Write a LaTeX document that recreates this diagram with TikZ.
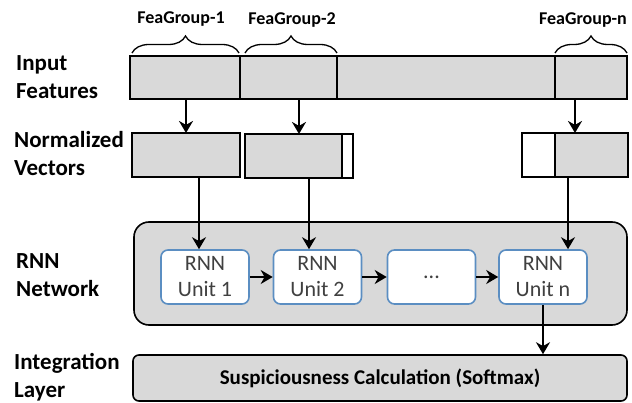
\documentclass[tikz,border=0pt]{standalone}
\usepackage{fontspec}
\setmainfont{Carlito}
\usetikzlibrary{arrows.meta,calc,decorations.pathreplacing}
\definecolor{boxgray}{HTML}{D9D9D9}
\definecolor{unitblue}{HTML}{5B8EC2}
\begin{document}
\begin{tikzpicture}[x=1pt,y=-1pt,
  lbl/.style={font=\bfseries\fontsize{23}{28}\selectfont,align=left,anchor=west,inner sep=0pt},
  grp/.style={font=\bfseries\fontsize{18}{20}\selectfont,inner sep=0pt},
  seg/.style={draw,line width=1.6pt,fill=boxgray,minimum height=43pt,inner sep=0pt,outer sep=0pt},
  vecbox/.style={draw,line width=1.6pt,fill=boxgray,minimum height=44pt,inner sep=0pt,outer sep=0pt},
  padbox/.style={draw,line width=1.6pt,fill=white,minimum height=44pt,inner sep=0pt,outer sep=0pt},
  unitbox/.style={draw=unitblue,line width=1.6pt,fill=white,rounded corners=7pt,minimum width=88pt,minimum height=54pt,align=center,inner sep=0pt,font=\fontsize{22}{26}\selectfont,text=black!75},
  arr/.style={line width=2.8pt,-{Stealth[length=12pt,width=14pt]}},
  brc/.style={decorate,decoration={brace,amplitude=17pt},line width=1.3pt}
]
\useasboundingbox (0,0) rectangle (632,403);

% row labels
\node[lbl] (l1) at (16,77) {Input\\Features};
\node[lbl] (l2) at (14,154) {Normalized\\Vectors};
\node[lbl] (l3) at (16,275) {RNN\\Network};
\node[lbl] (l4) at (14,377) {Integration\\Layer};

% input feature bar, split into groups
\node[seg,minimum width=110pt] (seg1) at (185,77.5) {};
\node[seg,minimum width=97pt,anchor=west] (seg2) at (seg1.east) {};
\node[seg,minimum width=218pt,anchor=west] (segm) at (seg2.east) {};
\node[seg,minimum width=72pt,anchor=west] (segn) at (segm.east) {};

% group braces and names
\draw[brc] ([xshift=2pt,yshift=3pt]seg1.north west) -- ([xshift=-1pt,yshift=3pt]seg1.north east);
\draw[brc] ([xshift=5pt,yshift=3pt]seg2.north west) -- ([yshift=3pt]seg2.north east);
\draw[brc] ([yshift=3pt]segn.north west) -- ([yshift=3pt]segn.north east);
\node[grp] (g1) at (181,19) {FeaGroup-1};
\node[grp] (g2) at (292,20) {FeaGroup-2};
\node[grp] (gn) at (583,20) {FeaGroup-n};

% normalized vectors
\node[vecbox,minimum width=108pt] (norm1) at (186,155) {};
\node[vecbox,minimum width=108pt] (norm2) at (299,156) {};
\node[padbox,minimum width=11pt,anchor=east] (pad2) at (norm2.east) {};
\node[vecbox,minimum width=73pt] (normn) at (591.5,155) {};
\node[padbox,minimum width=33pt,anchor=east] (padn) at (normn.west) {};
\coordinate (nn) at ($(padn.north west)!0.5!(normn.north east)$);

\draw[arr] (seg1.south -| norm1.north) -- (norm1.north);
\draw[arr] (seg2.south -| norm2.north) -- (norm2.north);
\draw[arr] (segn.south -| nn) -- (nn);

% RNN network
\node[draw,line width=1.6pt,fill=boxgray,rounded corners=15pt,minimum width=493pt,minimum height=103pt,inner sep=0pt] (net) at (380.5,273.5) {};
\node[unitbox] (u1) at (205,277) {RNN\\Unit 1};
\node[unitbox] (u2) at (317.5,277) {RNN\\Unit 2};
\node[unitbox] (u3) at (431.5,277) {...};
\node[unitbox] (un) at (543,277) {RNN\\Unit n};

\draw[arr] ([xshift=13pt]norm1.south) -- ([xshift=13pt]norm1.south |- u1.north);
\draw[arr] ([xshift=10pt]norm2.south) -- ([xshift=10pt]norm2.south |- u2.north);
\draw[arr] ([xshift=-23.5pt]normn.south) -- ([xshift=-23.5pt]normn.south |- un.north);

\draw[arr] (u1) -- (u2);
\draw[arr] (u2) -- (u3);
\draw[arr] (u3) -- (un);

% integration layer
\node[draw,line width=1.6pt,fill=boxgray,rounded corners=6pt,minimum width=494pt,minimum height=46pt,inner sep=0pt,font=\bfseries\fontsize{21}{24}\selectfont] (integ) at (380,378) {Suspiciousness Calculation (Softmax)};
\draw[arr] (un.south) -- (un.south |- integ.north);
\end{tikzpicture}
\end{document}
